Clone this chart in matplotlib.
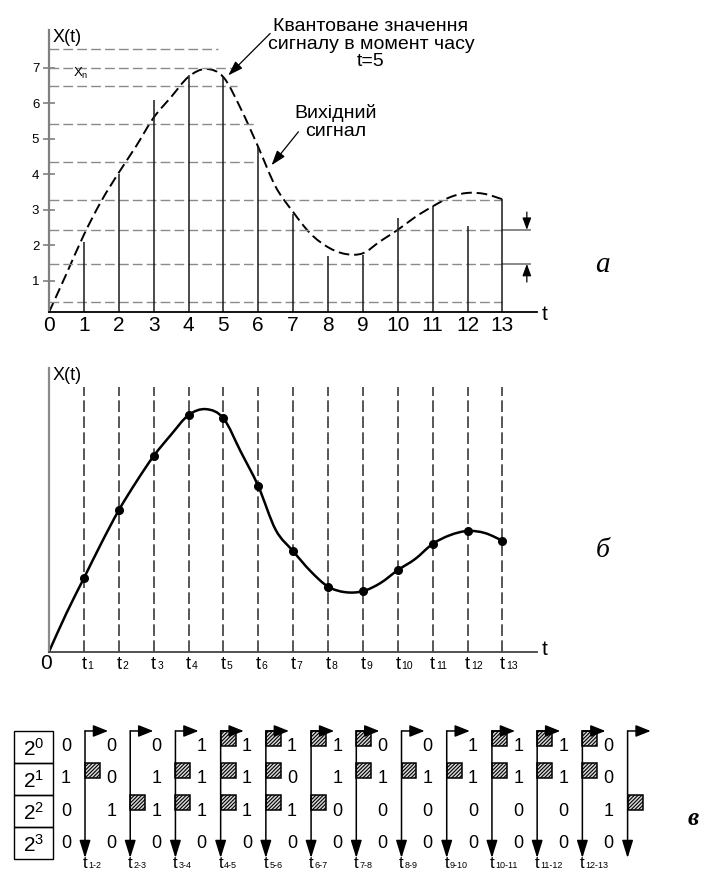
import numpy as np
import matplotlib.pyplot as plt
from matplotlib.path import Path
from matplotlib.patches import PathPatch, Rectangle

plt.rcParams['font.family'] = ['Liberation Sans', 'DejaVu Sans']
plt.rcParams['mathtext.fontset'] = 'custom'
plt.rcParams['mathtext.rm'] = 'Liberation Sans'
plt.rcParams['hatch.linewidth'] = 0.8

# ---- data ----
t_knots = [0, 0.5, 1, 1.5, 2, 2.5, 3, 3.5, 4, 4.5, 5, 5.5, 6, 6.5, 7,
           7.5, 8, 8.5, 9, 9.5, 10, 10.5, 11, 11.5, 12, 12.5, 13]
# input signal, panel a (dashed)
signal_a = [0.12, 1.2, 2.3, 3.25, 4.05, 4.8, 5.6, 6.18, 6.75, 6.97, 6.74,
            5.85, 4.77, 3.65, 2.94, 2.33, 1.95, 1.76, 1.78, 2.12, 2.44,
            2.8, 3.1, 3.36, 3.48, 3.45, 3.3]
# input signal, panel b (solid with sample points)
signal_b = [0.0, 1.1, 2.1, 3.1, 4.04, 4.85, 5.59, 6.2, 6.76, 6.93, 6.67,
            5.71, 4.73, 3.48, 2.87, 2.3, 1.86, 1.7, 1.73, 1.96, 2.33,
            2.65, 3.08, 3.33, 3.45, 3.39, 3.17]

sample_t = [1, 2, 3, 4, 5, 6, 7, 8, 9, 10, 11, 12, 13]
sample_heights = [2.09, 4.02, 6.1, 6.79, 6.74, 4.77, 2.89, 1.69, 1.72,
                  2.77, 3.10, 2.54, 3.30]

levels = [0.42, 1.48, 2.44, 3.29, 4.36, 5.42, 6.48, 7.0, 7.52]
level_ends = [13, 13, 13, 13, 5.96, 5.96, 5.4, 5.33, 4.85]

weights = ['0', '1', '2', '3']
# bits per sample, rows 2^0 .. 2^3
bits = [[0, 1, 0, 0], [0, 0, 1, 0], [0, 1, 1, 0], [1, 1, 1, 0],
        [1, 1, 1, 0], [1, 0, 1, 0], [1, 1, 0, 0], [0, 1, 0, 0],
        [0, 1, 0, 0], [1, 1, 0, 0], [1, 1, 0, 0], [1, 1, 0, 0],
        [0, 0, 1, 0]]
interval_labels = ['1-2', '2-3', '3-4', '4-5', '5-6', '6-7', '7-8', '8-9',
                   '9-10', '10-11', '11-12', '12-13']


def smooth_path(xs, ys):
    pts = np.column_stack([xs, ys]).astype(float)
    n = len(pts)
    verts = [pts[0]]
    codes = [Path.MOVETO]
    for k in range(n - 1):
        p0 = pts[max(k - 1, 0)]
        p1, p2 = pts[k], pts[k + 1]
        p3 = pts[min(k + 2, n - 1)]
        verts += [p1 + (p2 - p0) / 6, p2 - (p3 - p1) / 6, p2]
        codes += [Path.CURVE4] * 3
    return Path(verts, codes)


def sub_label(ax, x, y, main, sub, size, subsize, dx):
    ax.text(x, y, main, fontsize=size, ha='center', va='baseline')
    ax.annotate(sub, xy=(x, y), xytext=(dx, 0), textcoords='offset points',
                fontsize=subsize, ha='left', va='baseline',
                annotation_clip=False)


W, H = 704, 876
fig = plt.figure(figsize=(W / 100, H / 100), dpi=100)

# ---------------- panel a ----------------
ax_a = fig.add_axes([49 / W, 1 - 312.2 / H, 488.3 / W, 281.9 / H])
ax_a.set_xlim(0, 14)
ax_a.set_ylim(0.12, 8.06)

for lv, te in zip(levels, level_ends):
    ax_a.plot([0, te], [lv, lv], color='#8a8a8a', lw=1.0, ls=(0, (7, 3)))
for lv in levels[1:3]:
    ax_a.plot([13, 13.79], [lv, lv], color='#808080', lw=1.3)

ax_a.vlines(sample_t, 0.12, sample_heights, color='#1a1a1a', lw=1.1)
ax_a.add_patch(PathPatch(smooth_path(t_knots, signal_a), fill=False,
                         color='black', lw=1.4, ls=(0, (5.5, 2.5))))

arrow_kw = dict(arrowstyle='-|>,head_length=0.6,head_width=0.22',
                color='black', lw=0.9, shrinkA=0, shrinkB=0, mutation_scale=12)
ax_a.annotate('', xy=(13.7, levels[2]), xytext=(13.7, 2.94), arrowprops=arrow_kw)
ax_a.annotate('', xy=(13.7, levels[1]), xytext=(13.7, 0.97), arrowprops=arrow_kw)

note_kw = dict(arrowstyle='-|>,head_length=0.75,head_width=0.25',
               color='black', lw=0.9, shrinkA=0, shrinkB=0, mutation_scale=12)
ax_a.text(9.23, 7.67, 'Квантоване значення\nсигналу в момент часу\nt=5',
          fontsize=14, ha='center', va='center', ma='center', linespacing=1.05)
ax_a.annotate('', xy=(5.14, 6.79), xytext=(6.34, 7.97), arrowprops=note_kw,
              annotation_clip=False)
ax_a.text(8.23, 5.47, 'Вихідний\nсигнал', fontsize=14, ha='center',
          va='center', ma='center', linespacing=1.05)
ax_a.annotate('', xy=(6.38, 4.26), xytext=(7.15, 5.2), arrowprops=note_kw)

ax_a.text(0.09, 7.86, 'X(t)', fontsize=13, ha='left', va='center')
ax_a.text(0.69, 6.75, r'$\mathregular{X_n}$', fontsize=9.5, ha='left',
          va='baseline')
ax_a.text(14.2, -0.11, 't', fontsize=15, ha='center', va='baseline')
ax_a.text(15.88, 1.44, 'а', fontsize=21, ha='center', va='center',
          family='Liberation Serif', style='italic')

ax_a.set_xticks(range(0, 14))
ax_a.set_yticks(range(1, 8))
ax_a.tick_params(axis='x', length=0, labelsize=15, pad=3)
ax_a.tick_params(axis='y', direction='inout', length=8, width=1.2,
                 color='#808080', labelsize=9.5, pad=3)
for s in ['top', 'right']:
    ax_a.spines[s].set_visible(False)
ax_a.spines['left'].set_color('#808080')
ax_a.spines['left'].set_linewidth(1.6)
ax_a.spines['bottom'].set_linewidth(1.3)

# ---------------- panel b ----------------
ax_b = fig.add_axes([49 / W, 1 - 651.7 / H, 488.3 / W, 283.5 / H])
ax_b.set_xlim(0, 14)
ax_b.set_ylim(0, 8.1)
ax_b.vlines(sample_t, 0, 7.55, color='#3a3a3a', lw=1.2, ls=(0, (7, 2.6)))
ax_b.add_patch(PathPatch(smooth_path(t_knots, signal_b), fill=False,
                         color='black', lw=1.8))
ax_b.plot(t_knots[2::2], signal_b[2::2], 'o', color='black', ms=5.5)

ax_b.set_xticks([])
ax_b.set_yticks([])
for s in ['top', 'right']:
    ax_b.spines[s].set_visible(False)
ax_b.spines['left'].set_color('#8a8a8a')
ax_b.spines['left'].set_linewidth(1.6)
ax_b.spines['bottom'].set_color('#444444')
ax_b.spines['bottom'].set_linewidth(1.3)

for t in sample_t:
    sub_label(ax_b, t, -0.5, 't', str(t), 13, 7.5, 2.6)
ax_b.text(-0.09, -0.5, '0', fontsize=15, ha='center', va='baseline')
ax_b.text(0.11, 7.9, 'X(t)', fontsize=13, ha='left', va='center')
ax_b.text(14.2, -0.1, 't', fontsize=15, ha='center', va='baseline')
ax_b.text(15.88, 2.9, 'б', fontsize=20, ha='center', va='center',
          family='Liberation Serif', style='italic')

# ---------------- panel c ----------------
ax_c = fig.add_axes([0, 0, 1, 186 / H])
ax_c.axis('off')
ax_c.set_xlim(-1.88, 13.69)
ax_c.set_ylim(4.53, -1.28)

for r, w in enumerate(weights):
    ax_c.add_patch(Rectangle((-1.571, r), 0.863, 1, fill=False,
                             ec='black', lw=1.0))
    ax_c.text(-1.14, r + 0.55, rf'$\mathregular{{2^{{{w}}}}}$', fontsize=15,
              ha='center', va='center')

down_kw = dict(arrowstyle='-|>,head_length=0.9,head_width=0.28',
               color='black', lw=1.1, shrinkA=0, shrinkB=0, mutation_scale=12)
right_kw = dict(arrowstyle='-|>,head_length=0.75,head_width=0.3',
                color='black', lw=1.1, shrinkA=0, shrinkB=0, mutation_scale=12)

for i, col in enumerate(bits):
    ax_c.annotate('', xy=(i, 3.97), xytext=(i, 0), arrowprops=down_kw)
    ax_c.annotate('', xy=(i + 0.51, 0), xytext=(i, 0), arrowprops=right_kw)
    for r, b in enumerate(col):
        ax_c.text(i - 0.42, r + 0.5, str(b), fontsize=13, ha='center',
                  va='center')
        if b:
            ax_c.add_patch(Rectangle((i, r), 0.33, 0.46, facecolor='#d8d8d8',
                                     edgecolor='black', lw=1.1,
                                     hatch='/////////'))

for i, lab in enumerate(interval_labels):
    sub_label(ax_c, i, 4.29, 't', lab, 12, 6.5, 2.4)

ax_c.text(13.45, 2.72, 'в', fontsize=18, ha='center', va='center',
          family='Liberation Serif', style='italic', weight='bold')

fig.savefig('out.png', dpi=100)
